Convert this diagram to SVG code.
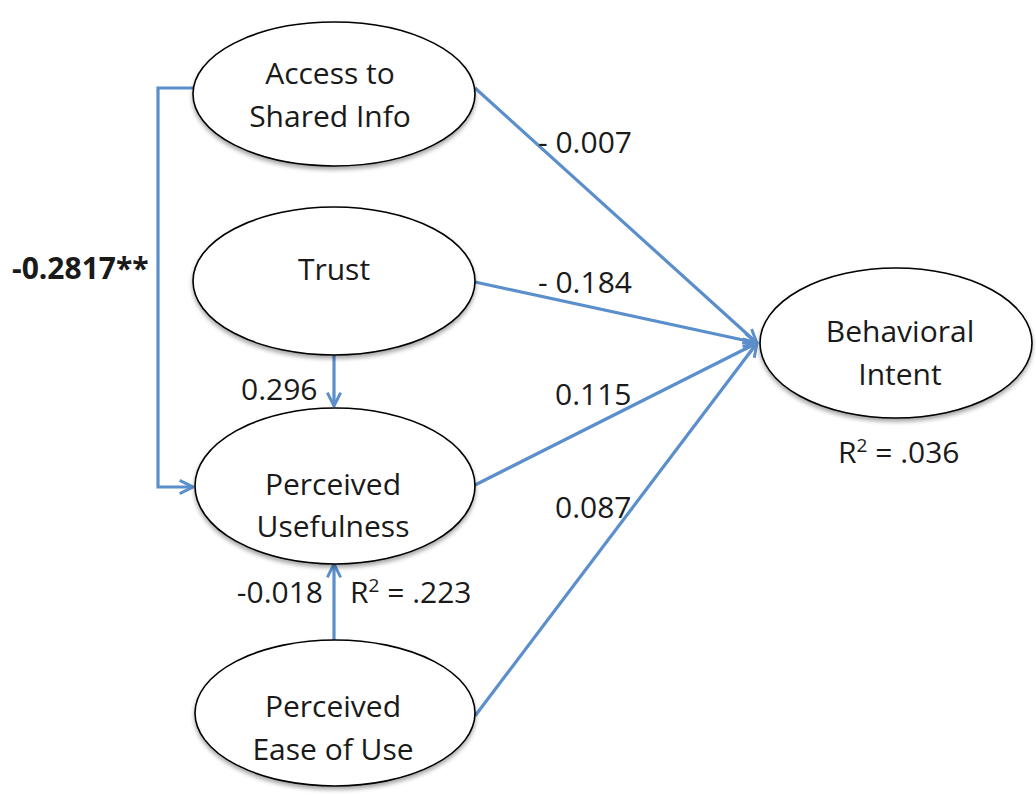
<svg xmlns="http://www.w3.org/2000/svg" width="1036" height="795" viewBox="0 0 1036 795">
<style>
.node ellipse{fill:#fff;stroke:#000;stroke-width:1.6;filter:url(#sh)}
.node text,.lbl{font-family:"Open Sans","Liberation Sans",sans-serif;font-size:30px;fill:#1a1a1a}
.node text{text-anchor:middle}
.conn path{fill:none;stroke:#5B8FCB;stroke-width:3.2;marker-end:url(#ah)}
.bold{font-weight:bold}
</style>
<defs>
<filter id="sh" x="-10%" y="-10%" width="120%" height="125%">
<feDropShadow dx="0" dy="3" stdDeviation="2" flood-color="#000" flood-opacity="0.35"/>
</filter>
<marker id="ah" viewBox="0 0 12 12" refX="11" refY="6" markerWidth="5" markerHeight="5" markerUnits="strokeWidth" orient="auto">
<path d="M1,1 L11,6 L1,11" fill="none" stroke="#5B8FCB" stroke-width="2.2" stroke-linejoin="miter"/>
</marker>
</defs>
<rect width="1036" height="795" fill="#fff"/>
<g id="connectors" class="conn">
<path d="M193,88 H158 V487 H193"/>
<path d="M334,355 V406"/>
<path d="M334,640 V564"/>
<path d="M475,88 L757,343"/>
<path d="M475,282 L757,343"/>
<path d="M475,485 L757,343"/>
<path d="M475,716 L757,343"/>
</g>
<g id="access" class="node">
<ellipse cx="334" cy="94" rx="141" ry="72"/>
<text x="330" y="84">Access to</text>
<text x="330" y="127">Shared Info</text>
</g>
<g id="trust" class="node">
<ellipse cx="334" cy="281" rx="141" ry="74"/>
<text x="334" y="280">Trust</text>
</g>
<g id="pu" class="node">
<ellipse cx="335" cy="486" rx="140" ry="78"/>
<text x="333" y="495">Perceived</text>
<text x="333" y="537">Usefulness</text>
</g>
<g id="peou" class="node">
<ellipse cx="335" cy="713" rx="140" ry="73"/>
<text x="333" y="717">Perceived</text>
<text x="333" y="760">Ease of Use</text>
</g>
<g id="bi" class="node">
<ellipse cx="896" cy="343" rx="136" ry="75"/>
<text x="900" y="342">Behavioral</text>
<text x="900" y="385">Intent</text>
</g>
<g id="labels">
<text class="lbl bold" x="12" y="279">-0.2817**</text>
<text class="lbl" x="241" y="400">0.296</text>
<text class="lbl" x="323" y="603" text-anchor="end">-0.018</text>
<text class="lbl" x="350" y="603">R<tspan dy="-11" font-size="19">2</tspan><tspan dy="11"> = .223</tspan></text>
<text class="lbl" x="838" y="463">R<tspan dy="-11" font-size="19">2</tspan><tspan dy="11"> = .036</tspan></text>
<text class="lbl" x="538" y="153">- 0.007</text>
<text class="lbl" x="538" y="293">- 0.184</text>
<text class="lbl" x="555" y="405">0.115</text>
<text class="lbl" x="555" y="518">0.087</text>
</g>
</svg>
